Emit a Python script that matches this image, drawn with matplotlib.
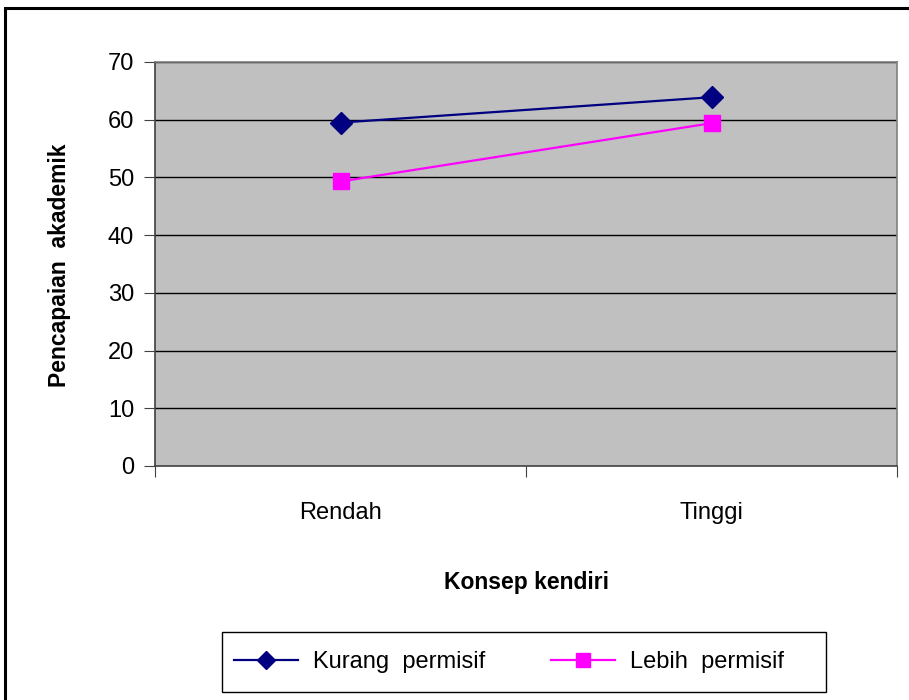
import matplotlib
matplotlib.use("Agg")
import matplotlib.pyplot as plt
from matplotlib.patches import Rectangle

categories = ["Rendah", "Tinggi"]
kurang = [59.5, 63.9]
lebih = [49.3, 59.4]
yticks = [0, 10, 20, 30, 40, 50, 60, 70]

plt.rcParams['font.family'] = ['Liberation Sans', 'DejaVu Sans']

fig = plt.figure(figsize=(9.09, 7.0), dpi=100)
fig.patches.append(Rectangle((5/909, -0.1), 1.2, 1 - 8/700 + 0.1, transform=fig.transFigure,
                             fill=False, edgecolor='black', linewidth=2.2, zorder=0))
fig.patches.append(Rectangle((222/909, 1 - 692/700), 604/909, 60/700, transform=fig.transFigure,
                             fill=False, edgecolor='black', linewidth=1.0, zorder=0))

ax = fig.add_axes([155/909, 1 - 466/700, 742/909, 404/700])
ax.set_facecolor('#C0C0C0')
x = [0.5, 1.5]
ax.set_xlim(0, 2)
ax.set_ylim(0, 70)
for v in yticks[1:]:
    ax.axhline(v, color='black', linewidth=1.0, zorder=1)
ax.plot(x, kurang, color='#000080', marker='D', markersize=11, linewidth=1.6, zorder=3,
        label='Kurang  permisif')
ax.plot(x, lebih, color='#FF00FF', marker='s', markersize=12, linewidth=1.6, zorder=3,
        label='Lebih  permisif')

ax.set_yticks(yticks)
ax.set_yticklabels([str(v) for v in yticks], fontsize=17)
ax.set_xticks([0, 1, 2])
ax.set_xticklabels([])
ax.set_xticks(x, minor=True)
ax.set_xticklabels(categories, minor=True, fontsize=17)
ax.tick_params(axis='x', which='minor', length=0, pad=26)
ax.tick_params(axis='x', which='major', length=8, color='#404040', direction='out')
ax.tick_params(axis='y', length=8, color='#404040', direction='out', pad=7)
for s in ['top', 'right']:
    ax.spines[s].set_color('#808080')
for s in ['left', 'bottom']:
    ax.spines[s].set_color('#404040')
for s in ax.spines.values():
    s.set_linewidth(1.2)

fig.text(527/909, 1 - 583/700, 'Konsep kendiri', fontsize=16.5, fontweight='bold',
         ha='center', va='center')
fig.text(60/909, 1 - 265/700, 'Pencapaian  akademik', fontsize=16.5, fontweight='bold',
         ha='center', va='center', rotation=90)

leg = fig.legend(loc='center left', bbox_to_anchor=(234/909, 1 - 662/700), ncol=2,
                 fontsize=17, frameon=False, borderpad=0, borderaxespad=0,
                 handlelength=2.7, columnspacing=2.8, handletextpad=0.64,
                 markerscale=0.85)

fig.savefig('out.png', dpi=100)
